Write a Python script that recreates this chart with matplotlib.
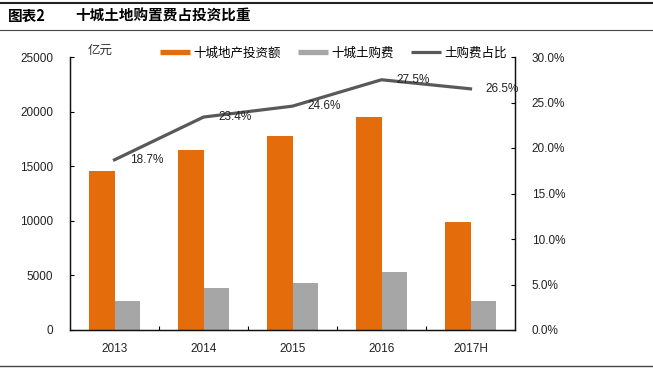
import matplotlib
matplotlib.use("Agg")
import matplotlib.pyplot as plt
import numpy as np
from matplotlib.lines import Line2D

plt.rcParams['font.family'] = ['Liberation Sans', 'Noto Sans CJK SC', 'DejaVu Sans']

categories = ['2013', '2014', '2015', '2016', '2017H']
invest = [14600, 16500, 17800, 19500, 9900]
land_fee = [2700, 3850, 4300, 5300, 2650]
ratio = [18.7, 23.4, 24.6, 27.5, 26.5]
ratio_labels = ['18.7%', '23.4%', '24.6%', '27.5%', '26.5%']
series_names = ['十城地产投资额', '十城土购费', '土购费占比']
left_ticks = [0, 5000, 10000, 15000, 20000, 25000]
right_ticks = [0, 5, 10, 15, 20, 25, 30]

orange = '#E46C0A'
grey = '#A6A6A6'
dark = '#595959'

W, H = 653, 369
fig = plt.figure(figsize=(W/100, H/100), dpi=100)
ax = fig.add_axes([70/W, 1-330/H, (515-70)/W, (330-57)/H])
ax2 = ax.twinx()

x = np.arange(len(categories))
bw = 0.287
ax.bar(x - bw/2, invest, bw, color=orange)
ax.bar(x + bw/2, land_fee, bw, color=grey)
ax.set_xlim(-0.5, len(categories) - 0.5)
ax.set_ylim(0, 25000)
ax.set_yticks(left_ticks)
ax.set_yticklabels([str(v) for v in left_ticks])
ax.set_xticks(x)
ax.set_xticklabels(categories)
ax.set_xticks(np.arange(len(categories) - 1) + 0.5, minor=True)
ax.tick_params(axis='x', which='major', length=0, pad=9, labelsize=8.5, colors='#222222')
ax.tick_params(axis='x', which='minor', direction='in', length=3, width=0.8)
ax.tick_params(axis='y', direction='in', length=3, width=0.8, pad=12, labelsize=8.5, labelcolor='#222222')

ax2.plot(x, ratio, color=dark, lw=2.3)
ax2.set_ylim(0, 30)
ax2.set_yticks(right_ticks)
ax2.set_yticklabels([f'{v:.1f}%' for v in right_ticks])
ax2.tick_params(axis='y', direction='in', length=3, width=0.8, pad=12, labelsize=8.5, labelcolor='#222222')
for xi, yi, lab in zip(x, ratio, ratio_labels):
    ax2.annotate(lab, (xi, yi), xytext=(11, 0), textcoords='offset points',
                 ha='left', va='center', fontsize=8.5, color='#222222')

for a in (ax, ax2):
    a.spines['top'].set_visible(False)
    for s in ('left', 'right', 'bottom'):
        a.spines[s].set_linewidth(0.9)
        a.spines[s].set_color('#111111')

fig.text(88/W, 1-50/H, '亿元', fontsize=9, family=['Noto Sans CJK SC'], va='center', ha='left', color='#333333')

handles = [Line2D([], [], color=orange, lw=3.8, solid_capstyle='butt'),
           Line2D([], [], color=grey, lw=3.8, solid_capstyle='butt'),
           Line2D([], [], color=dark, lw=2.3, solid_capstyle='butt')]
leg = fig.legend(handles=handles, labels=series_names, loc='center left',
                 bbox_to_anchor=(160/W, 1-53/H), borderaxespad=0, borderpad=0,
                 ncol=3, frameon=False, handlelength=2.4, handletextpad=0.25,
                 columnspacing=1.4, prop={'family': ['Noto Sans CJK SC'], 'size': 9})

# header
fig.add_artist(Line2D([0, 1], [1-3/H, 1-3/H], color='#222222', lw=1.5))
fig.add_artist(Line2D([0, 1], [1-30/H, 1-30/H], color='#444444', lw=0.8))
fig.add_artist(Line2D([0, 1], [1-366/H, 1-366/H], color='#444444', lw=1.0))
fig.text(8/W, 1-16/H, '图表2', fontsize=10.5, fontweight='bold', family=['Noto Sans CJK SC'], va='center', ha='left')
fig.text(75/W, 1-16/H, '十城土地购置费占投资比重', fontsize=10.5, fontweight='bold', family=['Noto Sans CJK SC'], va='center', ha='left')

fig.savefig('out.png', dpi=100)
